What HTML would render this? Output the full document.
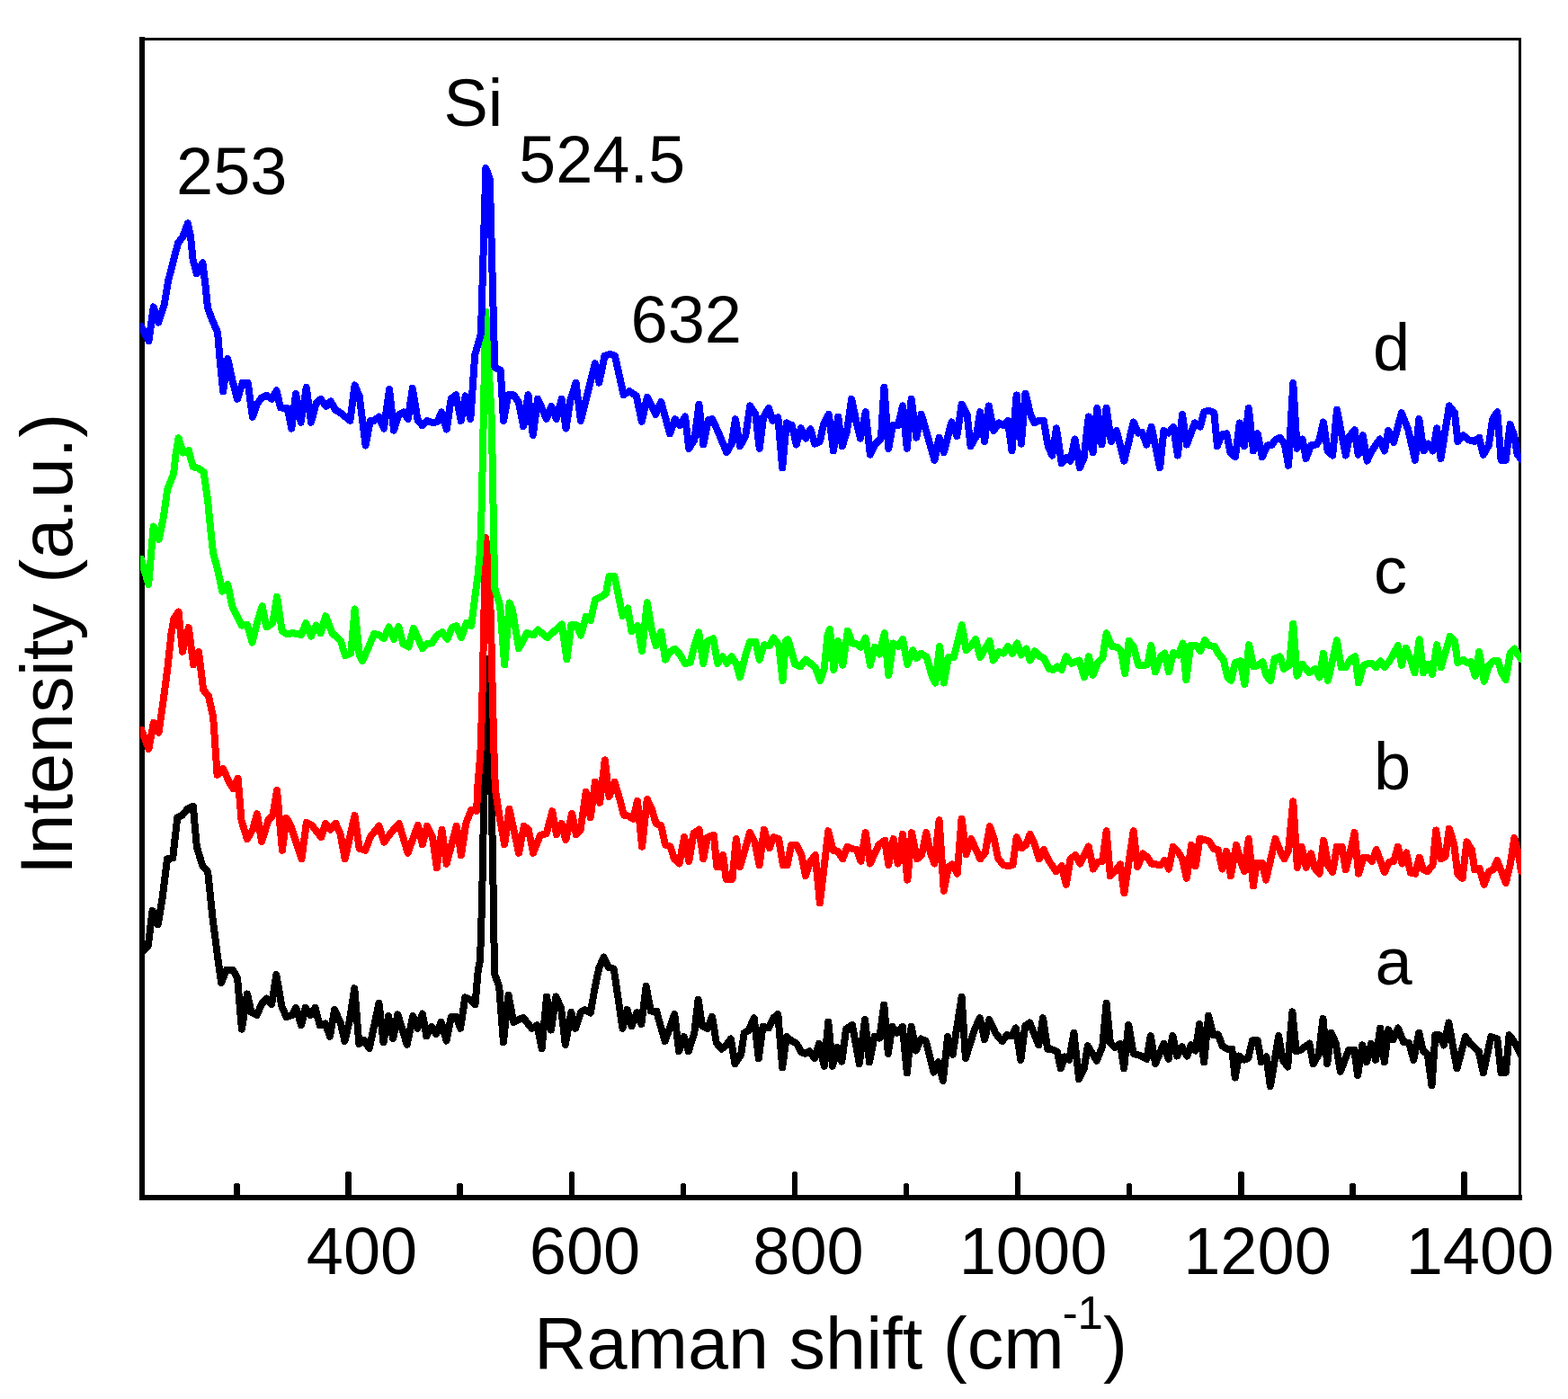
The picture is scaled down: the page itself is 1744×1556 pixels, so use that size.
<!DOCTYPE html>
<html lang="en"><head><meta charset="utf-8"><title>Raman spectra</title>
<style>html,body{margin:0;padding:0;background:#fff;overflow:hidden}svg{display:block}</style></head>
<body>
<svg width="1744" height="1556" viewBox="0 0 1744 1556" font-family="'Liberation Sans', Arial, sans-serif" fill="#000">
<rect x="0" y="0" width="1744" height="1556" fill="#fff"/>
<g shape-rendering="crispEdges">
<rect x="155" y="41" width="6" height="1294"/>
<rect x="155" y="1329" width="1538" height="6"/>
<rect x="155" y="42" width="1537" height="3"/>
<rect x="1689" y="42" width="3" height="1290"/>
<rect x="260.25" y="1317" width="6.5" height="13"/>
<rect x="261.25" y="1316" width="4.5" height="2"/>
<rect x="384.34" y="1304" width="6.5" height="26"/>
<rect x="385.34" y="1303" width="4.5" height="2"/>
<rect x="508.43" y="1317" width="6.5" height="13"/>
<rect x="509.43" y="1316" width="4.5" height="2"/>
<rect x="632.52" y="1304" width="6.5" height="26"/>
<rect x="633.52" y="1303" width="4.5" height="2"/>
<rect x="756.61" y="1317" width="6.5" height="13"/>
<rect x="757.61" y="1316" width="4.5" height="2"/>
<rect x="880.70" y="1304" width="6.5" height="26"/>
<rect x="881.70" y="1303" width="4.5" height="2"/>
<rect x="1004.79" y="1317" width="6.5" height="13"/>
<rect x="1005.79" y="1316" width="4.5" height="2"/>
<rect x="1128.88" y="1304" width="6.5" height="26"/>
<rect x="1129.88" y="1303" width="4.5" height="2"/>
<rect x="1252.97" y="1317" width="6.5" height="13"/>
<rect x="1253.97" y="1316" width="4.5" height="2"/>
<rect x="1377.06" y="1304" width="6.5" height="26"/>
<rect x="1378.06" y="1303" width="4.5" height="2"/>
<rect x="1501.15" y="1317" width="6.5" height="13"/>
<rect x="1502.15" y="1316" width="4.5" height="2"/>
<rect x="1625.24" y="1304" width="6.5" height="26"/>
<rect x="1626.24" y="1303" width="4.5" height="2"/>
</g>
<clipPath id="cp"><rect x="156" y="44" width="1536" height="1286"/></clipPath>
<g clip-path="url(#cp)">
<polyline points="157.2,1060.2 164.8,1052 169.5,1012.9 175.7,1028.4 180.8,997.5 186,955.3 192.2,954.3 197.3,909.1 202.4,907 208.6,899.8 214.8,896.7 218.9,942 225.1,962.5 231.2,969.7 236.4,1020.1 242.5,1067.4 246.2,1093.1 251.8,1078.7 259,1078.7 264.1,1088 268.9,1144.6 275,1105.5 279.6,1126 285.7,1129.1 290.9,1116.8 296.4,1110.6 302.2,1116.8 307.3,1083.9 313.5,1119.9 318.6,1131.2 324.8,1129.1 329.3,1120.9 335.1,1140.4 339.6,1120.9 345.4,1129.1 350.5,1120.9 355.7,1140.4 361.8,1138.4 367,1152.8 372.1,1123 378.7,1137.4 383.4,1157.9 388.6,1136.3 394.3,1099.3 399.3,1161 405,1156.9 410.8,1166.1 421.5,1115.8 426.5,1159.3 432.1,1130 437.2,1155 442.4,1128.3 452.7,1161.9 459.3,1130 464.4,1143.8 469.9,1127.5 474.3,1152.4 479.9,1142.1 485.1,1149.8 490.6,1136.9 496.6,1157.6 501.8,1130.9 507.8,1130.9 512.1,1143.8 517.3,1109.4 523.3,1112 528.5,1117.1 531.9,1077.5 534,1069 536.2,1000 537,950 542,733 546.8,890 548.8,1000 550,1083 555.2,1097.3 559.9,1159.3 565.5,1106.8 571.2,1136.9 581.9,1131.8 591.4,1143.8 597.4,1140.4 602.6,1166.2 608.1,1108.5 612.9,1145.5 618.4,1108.5 624.1,1121.4 628.8,1161.9 635.3,1125.7 640.1,1143.8 646,1125.7 650.8,1123.1 656.8,1126.6 662,1096.5 666.3,1076.6 671.5,1064.6 676.6,1075.8 682.7,1077.5 692.5,1143.8 697.6,1123.1 702.5,1141.2 708.3,1126.3 713.4,1139.2 718.6,1097 723.8,1124.5 730.1,1124.5 739.6,1158.1 750.3,1128 755.1,1169.3 760.6,1153 765.8,1169.3 772.3,1148.7 776.6,1111.6 781,1140.9 787,1144.3 792.1,1130.6 796.8,1159.8 802.5,1166.7 808.5,1161.6 812.8,1155.5 817.5,1183.1 824,1173.6 827.8,1148.7 832.6,1146.1 838.7,1132.3 843.8,1177.1 848.5,1141.8 855,1143.5 860.2,1132.3 865.3,1128 870.2,1187.4 874.8,1153 880.8,1158.1 886,1160.7 891.2,1170.2 895.5,1171.9 900.7,1169.3 905.8,1177.1 911,1160.7 916.7,1185.7 921.3,1136.6 926,1185.7 931.7,1165 936.3,1180.5 941.1,1144.3 948,1140 955.8,1183.1 962.1,1134 967,1181.4 972.5,1153 978.2,1154.7 983.3,1117.6 987.8,1171.9 992.4,1141.8 998.1,1148.7 1003.8,1141.8 1008.9,1193.4 1013.6,1141.8 1018.8,1168.5 1024.4,1155.5 1029.9,1158.1 1038.6,1192.6 1043.7,1181.4 1048.9,1202 1054.1,1153 1059.6,1172.8 1069.6,1109 1073.9,1177.1 1084.2,1144.3 1089.9,1132.3 1095.1,1156.4 1100.2,1134 1107.5,1149.5 1114.7,1158.1 1119.9,1151.2 1125.5,1152.1 1129.8,1143.5 1135.4,1178.8 1140.2,1140.9 1145.3,1137.5 1155.3,1162.4 1160,1132.3 1165.2,1166.7 1171.2,1167.6 1176,1170.2 1179.8,1188.3 1184.1,1175.3 1189.3,1178.8 1194.4,1148.7 1200.1,1200.3 1205.6,1189.1 1209.9,1163.3 1219.8,1179.7 1226.3,1163.3 1230.6,1115.9 1234.9,1159.8 1240.1,1165 1246.1,1160.7 1250.1,1188.3 1255.2,1140 1260.7,1171.9 1269.5,1174.5 1275.5,1177.9 1279.8,1152.1 1285,1183.1 1294.4,1160.7 1299.6,1177.9 1304.4,1152.1 1309.1,1174.5 1314.8,1164.2 1320.3,1174.5 1324.6,1162.4 1329.8,1168.5 1334.1,1139.2 1339.2,1181.4 1344.1,1129.7 1349.6,1151.2 1354.7,1150.4 1359.6,1163.3 1365.1,1166.7 1370.2,1166.7 1373.7,1198.6 1378,1174.5 1384,1178.8 1388.3,1177.1 1393,1157.3 1398.7,1157.3 1403,1181.4 1408.5,1175.3 1412.9,1208.1 1422.2,1152.1 1426.7,1178.8 1432.2,1186.5 1437.4,1125.4 1441.7,1169.3 1446.9,1167.6 1456.3,1160.7 1460.7,1183.1 1466.7,1172.8 1471.5,1133.1 1476.2,1183.1 1480.5,1148.7 1485.6,1159.8 1490.8,1191.7 1500.3,1167.6 1506.3,1167.6 1510.1,1196 1515.3,1162.4 1520.1,1181.4 1525.2,1160.7 1530.1,1178.8 1535.2,1143.5 1539.9,1181.4 1544.2,1145.2 1549.4,1156.4 1554.9,1143.5 1561.1,1159 1567.1,1159.8 1572.3,1178.8 1578.3,1148.7 1582.7,1168.5 1587.8,1172.8 1592.5,1207.2 1596.4,1151.2 1601.1,1151.2 1605.9,1162.4 1611.4,1137.5 1616.2,1165 1620.5,1188.3 1630,1153 1635.2,1160.7 1644.7,1169.3 1649.8,1193.4 1658.4,1153 1665.3,1155.5 1669.6,1193.4 1674.8,1192.6 1678.6,1151.2 1684.3,1159 1692,1173.6" fill="none" stroke="#000000" stroke-width="8" stroke-linejoin="round" stroke-linecap="round" shape-rendering="crispEdges"/>
<polyline points="157.3,811.7 165.4,832.9 170.8,804 176.6,814.6 181.8,778 186.6,741.3 190.5,704.7 193.4,688.3 198.6,680.6 203,724.9 209.8,698 215.2,739.4 221,724.9 226.2,767.4 231.9,774.1 237.1,797.2 241.6,861.8 248.3,855.1 255.1,870.5 259.5,877.3 264.7,865.7 268.6,912.9 274.9,933.2 281.1,922.6 285.9,905.2 291.1,936.1 298.5,912 303.3,907.1 308.1,879.2 313.9,945.7 318.7,910 323.5,918.7 335.5,955.3 340.9,914.9 346.7,917.8 357.3,931.2 362.1,915.8 367.5,922.6 373.3,915.8 378.5,927.4 383.7,955.3 394.5,907.1 399.7,943.8 406.4,945.7 412.2,930.3 421.5,918.7 427.2,936.7 434.6,926.4 443.8,916.1 453.6,948.8 464.8,917.8 469.9,939.3 475.1,918.7 481.1,931.6 485.8,965.2 491.5,923 496.6,960.8 507.8,918.7 513,951.4 518.2,916.1 524.2,900.6 530.1,902 531.5,872.6 534.4,838 536.3,780 538,702 540.2,598 544.5,643 546.2,702 547.8,771 549.5,838 550.9,878 555.3,907 561.2,939.3 566.4,899.7 577.1,948.8 582.8,918.7 587.9,923 593.1,948.8 600.8,929 607.7,927.3 614.3,902.3 618.9,928.1 624.6,916.1 629.3,934.2 636.2,904.9 640.8,928.1 645.6,923 651.7,880.8 656.8,909.2 662,869.6 667.2,892.8 672.8,845.4 677.5,885.9 683.5,869.6 688.7,886.8 693.9,906.6 699,907.5 704.2,910.9 709,890.8 714.1,941.6 719.8,889 725,900.2 729.6,915.7 735.3,918.3 740,939.8 745.6,941.6 749.9,955.3 755.5,960.5 761.1,931.2 766.3,957.9 771.5,926.9 777.5,922.6 782.3,955.3 787,931.2 793.9,928.7 797.3,964 801.6,964 804.2,951 807.6,977.7 814.5,977.7 818.8,933 823.1,964 834,926.1 839.5,936.4 844.7,962.2 849.8,922.6 855.9,943.3 860.2,931.2 866.2,933 870.9,962.2 875.7,962.2 880,939.8 886,939.8 891.2,950.2 896,974.3 901.5,957.9 906.7,951 911.9,1004.4 921.3,924.3 926.5,945.9 931.7,946.7 937.3,955.3 942.5,941.6 948,944.2 953.2,945 957.5,957.9 962.7,926.1 967.8,960.5 977.3,939.8 984.2,934.7 988.3,962.2 993.8,933 998.6,960.5 1004.1,927.8 1009.3,978.6 1014.1,926.1 1020,955.3 1025.1,951 1030.3,926.1 1034.8,948.5 1039.4,960.5 1044.6,912.3 1049.8,990.7 1054.9,964 1059.2,961.4 1064.7,971.7 1069.6,910.6 1074.7,950.2 1080.2,933 1090.2,955.3 1095.7,948.5 1100.9,919.2 1105.7,933 1110,954.5 1116.1,962.2 1121.2,963.1 1126.4,962.2 1130.7,931.2 1136.4,943.3 1141,939.8 1145.7,927.8 1150.5,938.1 1155.7,955.3 1160.8,945 1166.9,957.9 1174.6,969.1 1180.7,963.1 1185.8,983.8 1190.5,955.3 1196.2,951 1201.3,960.5 1210.8,941.6 1216,966.5 1221.1,958.8 1226.3,957.9 1230.6,924.3 1234.9,974.3 1240.1,969.1 1246.1,961.4 1250.4,993.2 1260.7,924.3 1265.2,964 1271.2,949.3 1276.4,953.6 1280.7,960.5 1285.8,961.4 1291,962.2 1295.3,957.1 1300,966.5 1304.8,941.6 1309.9,946.7 1315.1,955.3 1319.9,976.9 1325.1,939.8 1329.8,963.1 1334.4,933 1339.2,933.8 1344.7,935.5 1350.4,944.2 1354.7,945 1359.6,966.5 1364.2,946.7 1368.9,974.3 1375.1,939.8 1379.7,957.1 1384,969.1 1388.8,933 1394,985.5 1397.8,959.7 1403.8,959.7 1408.1,978.6 1418.5,933 1423.6,945.9 1428.4,955.3 1433.1,945.9 1438.3,891.3 1442.9,964.8 1447.7,941.6 1452.9,964.8 1458.1,949.3 1462.4,965.7 1467.5,971.7 1472.2,934.7 1477.4,963.1 1482.2,970 1487,941.6 1492.5,941.6 1496.8,967.4 1501.5,949.3 1506.6,926.1 1511.1,971.7 1516.6,953.6 1520.9,953.6 1526.1,957.9 1530.8,945 1539.9,970 1545.1,958.8 1550.2,957.9 1554.9,941.6 1559.4,960.5 1564.2,948.5 1568.9,970.8 1574,971.7 1578.7,953.6 1583.2,967.4 1587.8,969.1 1593.5,962.2 1597.3,923.5 1602.5,955.3 1607.6,952.8 1611.9,921.8 1617.1,938.1 1621.4,972.6 1626.6,976.9 1631.4,936.4 1636.9,945 1640.3,967.4 1645.5,965.7 1650.7,983.8 1656.2,969.1 1660.7,967.4 1665.3,957.1 1674.8,982 1679.6,962.2 1684.3,932.1 1688.6,948.5 1692,969.1" fill="none" stroke="#ff0000" stroke-width="8" stroke-linejoin="round" stroke-linecap="round" shape-rendering="crispEdges"/>
<polyline points="156.9,621.6 165.2,650 170.7,585.4 176.7,600 181.9,575.1 186.2,544.1 193.1,526.8 195.6,504.4 198.6,487.2 203.7,503.6 209.9,501 214.6,519.1 220.6,520.8 226.6,525.1 231,556.1 234.4,590.6 237,614.7 242.1,633.6 247.3,657.7 253.3,650 258.5,675 268.8,695.6 274.9,694.8 280.6,714.6 286.1,692.2 291.6,674.1 296.4,697.4 303.3,693 308.1,663.8 313.6,701.7 318.8,705.1 325.7,704.2 335.2,706 340.3,693 346,707.7 351.5,695.6 356.7,704.2 362.2,685.3 369.6,704.2 379.1,712.9 383.9,729.2 390.3,726.6 394.6,677.5 399.7,728.4 403.2,735.2 409.2,721.5 416.1,705.1 421.3,706 427,710.3 432.5,697.4 438.1,710.8 443.3,697.1 448.4,716 454.4,719.5 460,698.8 469.9,721.2 475.1,716 480.3,715.2 486.3,706.5 492,703.1 497.5,710.8 502.7,697.9 507.8,696.2 513,709.1 519,692.8 524.2,696.2 527.6,669.5 531.5,640 534.2,611 535.8,560 540.2,346.5 546.8,466 548.5,560 550.2,654 556.1,673 561.2,739.3 566.7,670.4 569.8,678.1 577.1,721.2 586.2,704 593.1,706.5 598.3,700.5 608.6,709.1 625,694.5 630.5,733.2 635.3,695.3 641.3,695.3 646,706.5 651.7,685.9 656.8,690.2 662,666.9 668,664.3 674,660 677.5,641.1 683.5,641.1 692.5,685 698.2,676.4 702.5,702.2 709,695.7 714.1,724.2 719.8,670.2 725,700.9 729.6,718.1 735.3,702.6 740,733.6 745.1,725 750.8,721.6 756,727.6 762,737.9 767.5,737.1 772.3,718.1 777.2,703.5 782.3,737.9 787,713 793.4,710.4 798.2,737.9 803.7,730.2 808.5,737.9 813.7,730.2 818.8,737.9 823.1,753.4 829.2,728.5 834,713.8 840.4,713.8 844.7,733.6 849.8,717.3 855.9,718.1 860.2,709.5 866.2,717.3 870.5,756.9 874,713 876.5,711.2 884.3,738.8 890.3,741.4 896,733.6 906.7,742.2 912.2,756.9 916.7,744 920.5,706.1 923,700 927.4,744.8 932.2,713 937.3,739.7 942.9,701.8 948,715.5 953.2,716.4 957.5,719.8 962.7,709.5 967.8,739.7 973,719.8 978.2,727.6 983.8,704.3 988.3,750.8 993.4,715.5 998.9,719 1004.1,711.2 1009.3,738.8 1015.3,723.3 1019.6,731.9 1024.4,726.7 1030.8,731 1036.8,752.6 1040.3,759.5 1045.1,719 1049.8,759.5 1054.9,731 1061,731 1069.9,695.4 1074.7,723.3 1079.9,718.1 1085.1,711.2 1090.2,731 1100.6,713 1104.9,734.5 1110.9,725 1116.1,726.7 1121.2,719 1126.1,726.7 1131.2,715.5 1135.9,728.5 1141.6,721.6 1145.7,734.5 1150.9,724.2 1156.5,730.2 1160.8,731.9 1166.9,744 1171.2,744.8 1176,741.4 1180.7,744.8 1185.8,730.2 1191.5,737.9 1200.5,734.5 1206,753.4 1211.1,730.2 1215.6,750.8 1221.1,737.1 1226.3,731.9 1230.6,704.3 1236.6,719 1242.7,719.8 1247,724.2 1251.3,749.1 1255.6,713 1261.1,719.8 1266,739.7 1272.1,740.5 1276.4,738.8 1280.3,718.1 1285,747.4 1291,730.2 1295.3,726.7 1300,747.4 1305.1,725.9 1310.8,728.5 1315.5,715.5 1319.4,756 1324.1,718.1 1330.6,718.1 1334.9,724.2 1340.1,712.1 1344.7,718.1 1350.9,719 1354.7,726.7 1360.8,733.6 1365.1,752.6 1369.4,756.9 1373.7,737.1 1379.7,735.3 1384.4,761.2 1389.2,717.3 1394.3,741.4 1399.5,739.7 1404.3,736.2 1408.5,751.7 1413.3,756.9 1417.6,732.8 1423.6,730.2 1427.9,744 1434,739.7 1438.3,693.7 1442.6,751.7 1448.6,738.8 1456,748.3 1462.9,744 1467.5,753.4 1471.9,726.7 1477,756.9 1487,712.1 1491.7,742.2 1496.8,742.2 1502,733.6 1507.2,730.2 1511.1,759.5 1516.3,740.5 1521.8,737.9 1526.1,737.9 1530.4,742.2 1535.6,735.3 1539.9,742.2 1545.9,734.5 1554.9,718.1 1559.1,739.7 1563.7,720.7 1568.4,731.9 1573.5,748.3 1578.7,711.2 1583.2,748.3 1588.7,738.8 1593,750 1598.2,717.3 1602.8,742.2 1612.8,707.8 1618,713 1621.4,737.1 1627.4,733.6 1631.7,737.1 1636,736.2 1640.7,751.7 1645.2,725 1650.7,757.7 1655.9,740.5 1661,735.3 1666.2,735.3 1670.5,749.1 1674.8,756 1679.6,726.7 1684.3,721.6 1688.6,728.5 1692,732.8" fill="none" stroke="#00ff00" stroke-width="8" stroke-linejoin="round" stroke-linecap="round" shape-rendering="crispEdges"/>
<polyline points="156.9,363 165.5,379.3 170.7,341.4 176.2,358.7 182.7,338.8 187,313 193.1,288.9 198.2,269.9 203.4,263.1 208.9,248.4 212,263.1 214.6,288.9 218.9,304.4 225.4,292.3 228.4,316.5 231,342.3 236.1,356.1 242.1,369.8 243.9,392.2 248.2,435.3 253.3,399.1 258.5,423.2 264,443.9 269.7,425.8 275.7,425.8 280.9,463.7 286.1,449.1 291.2,442.2 296.4,439.6 302.4,443.9 307.6,434.4 311.9,453.4 319.7,454.2 324.3,476.6 329.1,437.9 334.6,469.7 340.8,431 346,469.7 351.5,449.1 356.7,443.9 362.7,451.7 367.9,446.5 373,456 379.1,459.4 389.4,468 394.6,428.4 399.7,440.5 406.6,495.6 411.8,468 416.1,468 421.3,463.7 427,476.6 433.1,433 438,478.6 443.3,461.6 448.6,458.4 453.9,465.9 458.8,431.9 464.5,466.9 469.8,473.3 475.1,468 481.5,470.1 486.8,469 491,458.4 496.8,477.5 501.7,443.6 507,439.3 512.7,468 517.6,440.4 523.3,465.9 528.2,394.8 534.9,371.5 540.4,187 544.8,199 550.3,408.6 556.8,411.8 560,468 565.3,439.3 571.6,439.3 576.9,447.8 582.2,474.3 587.5,439.3 592.8,483.9 598.1,443.6 602.8,454.2 607.7,465.9 613.4,452.1 618.9,465.9 624.7,443.6 629.5,476.5 634.2,445.7 640.6,425.6 645.9,468 661.8,404.4 666.4,425.6 672.4,395.9 678.7,393.7 684,395.9 693.6,439.3 699.9,435.1 707.8,440.2 713.8,468.7 719.8,442 729.3,460.9 735.3,447.1 745.1,482.4 750.8,466.1 756,473 762,463.5 766.3,498.8 772.3,489.3 777.5,449.7 782.3,494.5 787.8,466.9 792.1,466.1 798.2,479 808.2,503.1 813.7,493.6 818,466.1 823.1,496.2 829.2,485 834.3,451.4 840.4,460.9 844.7,498.8 849,464.3 855,454 859.3,467.8 865.3,464.3 870.2,520.3 874.8,470.4 880.8,473 885.7,494.5 890.8,476.4 896.3,487.6 901.5,477.3 906.3,493.6 911.9,491 916.2,471.2 921.8,460.9 927,501.4 932.2,463.5 936.8,496.2 942,479.8 947.2,443.7 951.8,466.1 957,487.6 962.7,458.3 967.8,505.7 973.9,493.6 979.9,487.6 983.4,430.8 988.3,498.8 992.9,473 998.9,473 1004.1,451.4 1008.8,498.8 1013.6,443.7 1019.3,486.7 1024.8,460.9 1039.4,511.7 1044.6,486.7 1049.8,503.1 1058.4,469.5 1064.4,485 1069.6,449.7 1075.6,460.9 1079.6,496.2 1085.9,485 1090.2,458.3 1095.1,491 1099.7,451.4 1105.4,479 1110.9,470.4 1116.1,473 1120.9,467.8 1125.5,501.4 1130.7,439.4 1135.9,493.6 1140.5,437.6 1146.2,460.9 1150.5,470.4 1155.7,467.8 1160.8,467.8 1165.7,496.2 1170.3,506.5 1175,476.4 1180.7,515.2 1185.8,509.1 1190.5,512.6 1195.6,488.5 1201,520.3 1205.6,509.1 1210.8,463.5 1215.6,503.1 1220.3,454 1225.4,494.5 1230.6,454 1235.8,491 1241.8,479 1250.4,512.6 1260.7,469.5 1266,481.6 1270.3,480.7 1275.2,494.5 1280.7,474.7 1290.1,520.3 1294.4,479 1299.6,481.6 1305.1,474.7 1309.9,506.5 1315.1,460.9 1319.9,494.5 1328.9,470.4 1334.9,474.7 1339.2,458.3 1344.4,456.6 1350.4,459.2 1353.9,496.2 1359,483.3 1364.2,482.4 1368.5,503.1 1374,508.3 1378.8,470.4 1384,496.2 1388.8,454 1394,501.4 1398.7,482.4 1403.8,508.3 1409.8,495.3 1414.2,495.3 1418.5,489.3 1423.6,486.7 1428.8,493.6 1433.1,517.7 1438.3,426.1 1442.6,498.8 1448.6,488.5 1452.6,510 1458.1,495.3 1464.1,494.5 1467.5,489.3 1471.9,469.5 1476.7,501.4 1482.2,506.5 1487,455.7 1496.8,506.5 1501.1,485 1506.6,478.1 1510.6,505.7 1515.8,484.2 1520.6,512.6 1525.2,502.2 1534.7,488.5 1539.9,501.4 1544.2,479 1550.2,491.9 1558.8,459.2 1566.3,478.1 1574,511.7 1578.3,466.1 1583.5,501.4 1588.7,493.6 1593.8,501.4 1598.2,476.4 1602.5,510 1611.9,451.4 1618,459.2 1621.4,491 1627.4,484.2 1633.5,489.3 1640.3,491 1645.2,486.7 1649.8,505.7 1655.9,495.3 1660.2,466.1 1665.3,458.3 1669.6,511.7 1674.8,511.7 1679.6,472.1 1684.3,485 1687.7,505.7 1692,510.8" fill="none" stroke="#0000ff" stroke-width="8" stroke-linejoin="round" stroke-linecap="round" shape-rendering="crispEdges"/>
</g>
<text x="402.5" y="1417" font-size="74" text-anchor="middle">400</text>
<text x="650.5" y="1417" font-size="74" text-anchor="middle">600</text>
<text x="899" y="1417" font-size="74" text-anchor="middle">800</text>
<text x="1149" y="1417" font-size="74" text-anchor="middle">1000</text>
<text x="1398.5" y="1417" font-size="74" text-anchor="middle">1200</text>
<text x="1646" y="1417" font-size="74" text-anchor="middle">1400</text>
<text x="594" y="1522" font-size="81">Raman shift (cm<tspan font-size="51" dx="-2" dy="-44">-1</tspan><tspan dx="0" dy="44">)</tspan></text>
<text transform="translate(80,973) rotate(-90)" font-size="81">Intensity (a.u.)</text>
<text x="196" y="216" font-size="74">253</text>
<text x="493.5" y="139.5" font-size="74">Si</text>
<text x="577" y="202.5" font-size="74">524.5</text>
<text x="701.5" y="381" font-size="74">632</text>
<text x="1527" y="412" font-size="74">d</text>
<text x="1528" y="660" font-size="74">c</text>
<text x="1528" y="878" font-size="74">b</text>
<text x="1529.5" y="1095" font-size="74">a</text>
</svg>
</body></html>
